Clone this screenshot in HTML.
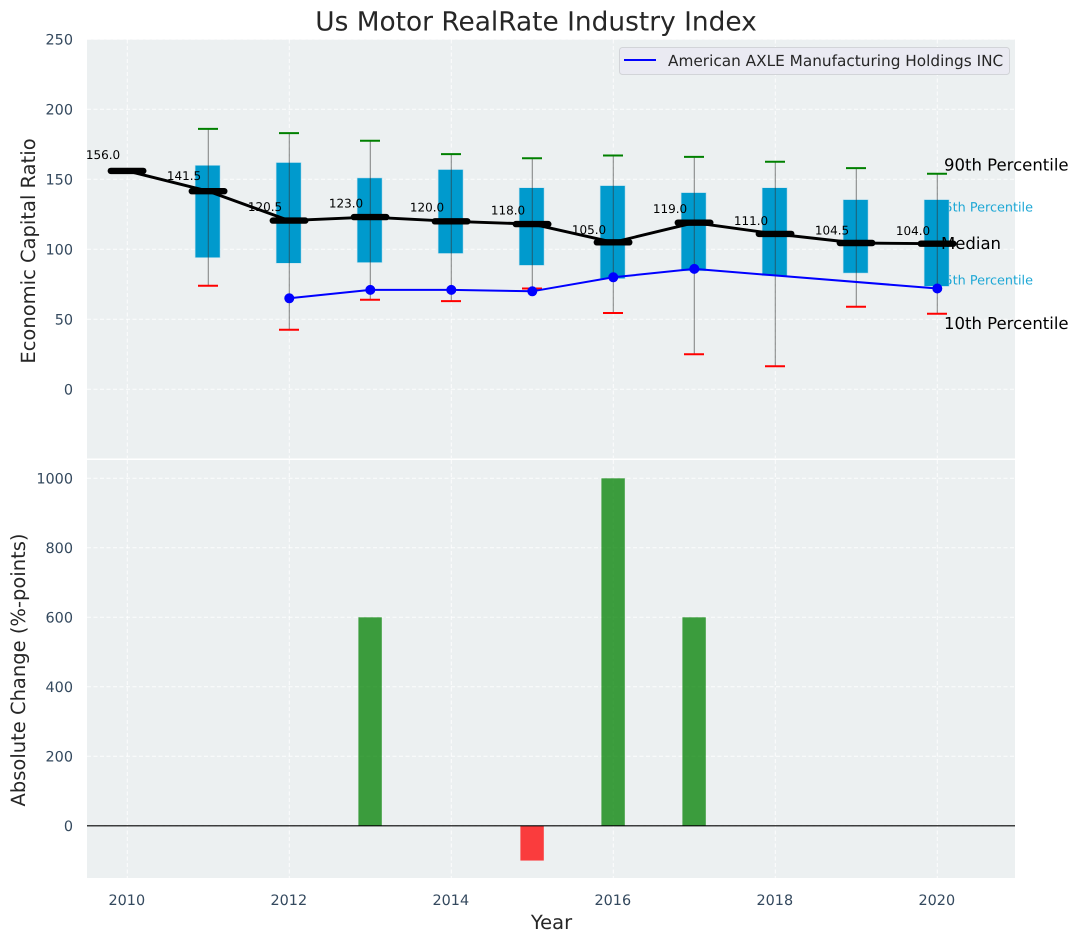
<!DOCTYPE html>
<html lang="en">
<head>
<meta charset="utf-8">
<title>Us Motor RealRate Industry Index</title>
<style>
html,body{margin:0;padding:0;background:#fff;width:1079px;height:942px;overflow:hidden}
svg{display:block}
text{font-family:"DejaVu Sans","Liberation Sans",sans-serif;text-rendering:geometricPrecision}
</style>
</head>
<body>
<svg id="chart" xmlns="http://www.w3.org/2000/svg" width="1079" height="942" viewBox="0 0 1079 942">
  <rect x="0" y="0" width="1079" height="942" fill="#ffffff"/>
  <rect x="87" y="39.5" width="928" height="419" fill="#ecf0f1"/>
  <rect x="87" y="460" width="928" height="418" fill="#ecf0f1"/>
  <g id="grid"></g>
  <g id="ticks"></g>
  <g id="annotations">
    <text x="1033" y="211.5" text-anchor="end" font-size="12.8" fill="#1da7d5">75th Percentile</text>
    <text x="1033" y="284.5" text-anchor="end" font-size="12.8" fill="#1da7d5">25th Percentile</text>
  </g>
  <g id="bars"></g>
  <g id="boxes"></g>
  <g id="whiskers"></g>
  <g>
    <text x="944" y="170.5" font-size="16.5" fill="#000000">90th Percentile</text>
    <text x="941" y="249" font-size="16.5" fill="#000000">Median</text>
    <text x="944" y="329" font-size="16.5" fill="#000000">10th Percentile</text>
  </g>
  <g id="medianSeries"></g>
  <g id="companySeries"></g>
  <g id="medianLabels"></g>
  <line x1="87" x2="1015" y1="825.8" y2="825.8" stroke="#000000" stroke-width="1.2"/>
  <text x="536" y="30.5" text-anchor="middle" font-size="26.4" fill="#262626">Us Motor RealRate Industry Index</text>
  <text transform="translate(35,251) rotate(-90)" text-anchor="middle" font-size="19.5" fill="#262626">Economic Capital Ratio</text>
  <text transform="translate(25,670) rotate(-90)" text-anchor="middle" font-size="19.5" fill="#262626">Absolute Change (%-points)</text>
  <text x="551.5" y="929" text-anchor="middle" font-size="19.5" fill="#262626">Year</text>
  <g>
    <rect x="619.5" y="47.5" width="390" height="27" rx="3" fill="#eaeaf2" stroke="#d2d4d8" stroke-width="1"/>
    <line x1="624" x2="656" y1="60" y2="60" stroke="#0000ff" stroke-width="2"/>
    <text x="668" y="66" font-size="15.3" fill="#262626">American AXLE Manufacturing Holdings INC</text>
  </g>
</svg>
<script>
const years = [2010, 2011, 2012, 2013, 2014, 2015, 2016, 2017, 2018, 2019, 2020];
const medians = [156, 141.5, 120.5, 123, 120, 118, 105, 119, 111, 104.5, 104];
const p90 = [null, 186, 183, 177.5, 168, 165, 167, 166, 162.5, 158, 154];
const p75 = [null, 160, 162, 151, 157, 144, 145.5, 140.5, 144, 135.5, 135.5];
const p25 = [null, 94, 90, 90.5, 97, 88.5, 79, 84.5, 81, 83, 73.5];
const p10 = [null, 74, 42.5, 64, 63, 72, 54.5, 25, 16.5, 59, 54];
const company = [null, null, 65, 71, 71, 70, 80, 86, null, null, 72];
const absoluteChange = [0, 0, 0, 600, 0, -100, 1000, 600, 0, 0, 0];
const upperTicks = [0, 50, 100, 150, 200, 250];
const lowerTicks = [0, 200, 400, 600, 800, 1000];
const yearTicks = [2010, 2012, 2014, 2016, 2018, 2020];

const NS = 'http://www.w3.org/2000/svg';
const LEFT = 87, RIGHT = 1015;
function xScale(v) { return 127.3 + (v - 2010) * 81; }
function yUpper(v) { return 389.3 - v * 1.4; }
function yLower(v) { return 825.8 - v * 0.3475; }
function mk(parentId, tag, attrs, text) {
  const el = document.createElementNS(NS, tag);
  Object.keys(attrs).forEach(function (k) { el.setAttribute(k, attrs[k]); });
  if (text !== undefined) el.textContent = text;
  document.getElementById(parentId).appendChild(el);
  return el;
}

const gridStyle = { stroke: '#ffffff', 'stroke-width': 1, 'stroke-dasharray': '4 2.5', 'stroke-opacity': 0.85 };

upperTicks.forEach(function (t) {
  const y = yUpper(t);
  const line = mk('grid', 'line', Object.assign({ x1: LEFT, x2: RIGHT, y1: y, y2: y }, gridStyle));
  
  
  const label = mk('ticks', 'text', { x: 73, y: y + 5.2, 'text-anchor': 'end', 'font-size': 14.4, fill: '#34495e' }, String(t));
  
  
});

lowerTicks.forEach(function (t) {
  const y = yLower(t);
  const line = mk('grid', 'line', Object.assign({ x1: LEFT, x2: RIGHT, y1: y, y2: y }, gridStyle));
  
  
  const label = mk('ticks', 'text', { x: 73, y: y + 5.2, 'text-anchor': 'end', 'font-size': 14.4, fill: '#34495e' }, String(t));
  
  
});

yearTicks.forEach(function (t) {
  const x = xScale(t);
  const upper = mk('grid', 'line', Object.assign({ x1: x, x2: x, y1: 39.5, y2: 458 }, gridStyle));
  
  
  const lower = mk('grid', 'line', Object.assign({ x1: x, x2: x, y1: 460, y2: 878 }, gridStyle));
  
  
  const label = mk('ticks', 'text', { x: x - 0.5, y: 905, 'text-anchor': 'middle', 'font-size': 14.4, fill: '#34495e' }, String(t));
  
  
});

years.forEach(function (yr, i) {
  const v = absoluteChange[i];
  if (v === 0) return;
  const top = yLower(Math.max(v, 0));
  const bottom = yLower(Math.min(v, 0));
  const bar = mk('bars', 'rect', {
    x: xScale(yr) - 11.9, y: top, width: 23.4, height: bottom - top,
    fill: '#' + (v > 0 ? '008000' : 'ff0000'), 'fill-opacity': 0.75
  });
  
  
});

years.forEach(function (yr, i) {
  if (p75[i] === null) return;
  const box = mk('boxes', 'rect', {
    x: xScale(yr) - 13.2, y: yUpper(p75[i]), width: 25, height: yUpper(p25[i]) - yUpper(p75[i]),
    fill: '#009acd', stroke: '#c4e2ee', 'stroke-width': 0.6
  });
  
  

  const x = xScale(yr);
  const stem = mk('whiskers', 'line', {
    x1: x, x2: x, y1: yUpper(p90[i]), y2: yUpper(p10[i]), stroke: '#333333', 'stroke-width': 1.1, 'stroke-opacity': 0.55
  });
  
  
  const capTop = mk('whiskers', 'line', {
    x1: x - 10.3, x2: x + 9.7, y1: yUpper(p90[i]), y2: yUpper(p90[i]), stroke: '#008000', 'stroke-width': 2
  });
  
  
  const capBottom = mk('whiskers', 'line', {
    x1: x - 10.3, x2: x + 9.7, y1: yUpper(p10[i]), y2: yUpper(p10[i]), stroke: '#ff0000', 'stroke-width': 2
  });
  
  
});

const medianPoints = years.map(function (yr, i) { return xScale(yr) + ',' + yUpper(medians[i]); }).join(' ');
const medianLine = mk('medianSeries', 'polyline', { points: medianPoints, fill: 'none', stroke: '#000000', 'stroke-width': 2.9, 'stroke-linejoin': 'round' });



years.forEach(function (yr, i) {
  const x = xScale(yr), y = yUpper(medians[i]);
  const tick = mk('medianSeries', 'line', {
    x1: x - 16.5, x2: x + 16, y1: y, y2: y, stroke: '#000000', 'stroke-width': 6.4, 'stroke-linecap': 'round'
  });
  
  
  const label = mk('medianLabels', 'text', {
    x: x - 24.3, y: yUpper(medians[i] * 1.05 + 4) + 4.4, 'text-anchor': 'middle', 'font-size': 12, fill: '#000000'
  }, medians[i].toFixed(1));
  
  
});

const companyPoints = years.map(function (yr, i) {
  return company[i] === null ? null : xScale(yr) + ',' + yUpper(company[i]);
}).filter(Boolean).join(' ');
const companyLine = mk('companySeries', 'polyline', { points: companyPoints, fill: 'none', stroke: '#0000ff', 'stroke-width': 2 });



years.forEach(function (yr, i) {
  if (company[i] === null) return;
  const dot = mk('companySeries', 'circle', { cx: xScale(yr), cy: yUpper(company[i]), r: 5, fill: '#0000ff' });
  
  
});
</script>
</body>
</html>
